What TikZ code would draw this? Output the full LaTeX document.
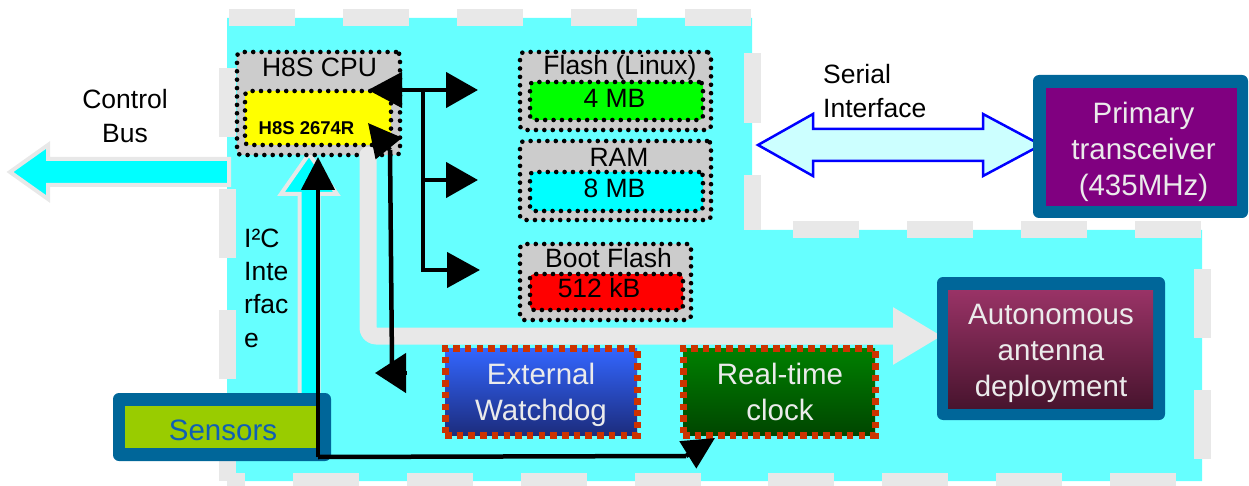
\documentclass[tikz,border=0pt]{standalone}
\usepackage{fontspec}
\setmainfont{Liberation Sans}
\usetikzlibrary{arrows.meta}
\definecolor{bgcyan}{RGB}{102,255,255}
\definecolor{lgray}{RGB}{232,232,232}
\definecolor{chipgray}{RGB}{204,204,204}
\definecolor{chipyellow}{RGB}{255,255,0}
\definecolor{flashgreen}{RGB}{0,255,0}
\definecolor{ramcyan}{RGB}{0,255,255}
\definecolor{bootred}{RGB}{255,0,0}
\definecolor{tealblue}{RGB}{0,102,153}
\definecolor{xcvrpurple}{RGB}{128,0,128}
\definecolor{anttop}{RGB}{153,51,102}
\definecolor{antbot}{RGB}{72,20,46}
\definecolor{wdtop}{RGB}{51,102,255}
\definecolor{wdbot}{RGB}{28,44,125}
\definecolor{rtctop}{RGB}{0,128,0}
\definecolor{rtcbot}{RGB}{0,70,0}
\definecolor{rusty}{RGB}{204,51,0}
\definecolor{sensgreen}{RGB}{153,204,0}
\definecolor{senstext}{RGB}{15,95,180}
\definecolor{lighttxt}{RGB}{235,235,235}
\definecolor{serialfill}{RGB}{204,255,255}
\definecolor{serialblue}{RGB}{0,0,255}
\newcommand{\myfs}[2]{\fontsize{#1}{#2}\selectfont}
\begin{document}
\begin{tikzpicture}[x=1pt,y=-1pt,
  frame/.style={draw=lgray, line width=17pt},
  box/.style={rectangle, inner sep=0pt, outer sep=0pt},
  dotted box/.style={box, draw=black, line width=4.6pt, dash pattern=on 0pt off 8.4pt, line cap=round, rounded corners=4pt},
  rusty box/.style={box, draw=rusty, line width=7pt, dash pattern=on 6.5pt off 5.2pt},
  teal box/.style={box, fill=tealblue, rounded corners=6pt},
  lbl/.style={inner sep=0pt, font=\myfs{26.5}{34}},
  wtxt/.style={inner sep=0pt, align=center, text=lighttxt, font=\myfs{29.5}{36}},
  blk/.style={draw=black, line width=4.5pt},
  bigarrow/.style={draw=lgray, line width=4pt, fill=ramcyan, line join=miter}
]
\useasboundingbox (0,0) rectangle (1249,486);
\clip (0,0) rectangle (1249,486);

% background region
\fill[bgcyan] (227,18) -- (752,18) -- (752,230) -- (1202,230) -- (1202,481) -- (227,481) -- cycle;
\draw[frame, dash pattern=on 66pt off 48pt, dash phase=112pt] (227,18) -- (752,18);
\draw[frame, dash pattern=on 69pt off 52pt, dash phase=71pt] (227,18) -- (227,481);
\draw[frame, dash pattern=on 70pt off 52pt, dash phase=87pt] (752,18) -- (752,230);
\draw[frame, dash pattern=on 66pt off 48pt, dash phase=73pt] (752,230) -- (1202,230);
\draw[frame, dash pattern=on 69pt off 52pt, dash phase=82pt] (1202,230) -- (1202,481);
\draw[frame, dash pattern=on 66pt off 48pt, dash phase=48pt] (227,481) -- (745,481);
\draw[frame, dash pattern=on 66pt off 48pt, dash phase=91pt] (745,481) -- (1202,481);

% Control bus arrow
\draw[bigarrow] (10,172) -- (48,145) -- (48,159) -- (229,159) -- (229,185) -- (48,185) -- (48,199) -- cycle;
\node[lbl, align=center] (ctrllbl) at (125,116.5) {Control\\Bus};

% Serial interface arrow
\draw[draw=serialblue, line width=2.5pt, fill=serialfill] (758,145) -- (813,114) -- (813,129) -- (983,129) -- (983,114) -- (1041,145) -- (983,176) -- (983,161) -- (813,161) -- (813,176) -- cycle;
\node[lbl, align=left, anchor=west] (serlbl) at (823,91) {Serial\\Interface};

% I2C arrow
\draw[bigarrow] (309,154) -- (337,194) -- (318.5,194) -- (318.5,405) -- (299.5,405) -- (299.5,194) -- (281,194) -- cycle;
\node[lbl, align=left, anchor=west, font=\myfs{26.5}{33.3}] (i2clbl) at (244,288) {I²C\\Inte\\rfac\\e};

% CPU
\node[dotted box, fill=chipgray, minimum width=163pt, minimum height=103pt] (cpu) at (318.5,103.5) {};
\node[dotted box, fill=chipyellow, minimum width=146pt, minimum height=54pt] (chip) at (318,118) {};
\node[lbl, anchor=base] (cpulbl) at (319.5,77) {H8S CPU};
\node[inner sep=0pt, anchor=base, font=\bfseries\myfs{18.5}{22}] (chiplbl) at (306.5,135) {H8S 2674R};

% Flash
\node[dotted box, fill=chipgray, minimum width=191pt, minimum height=78pt] (flash) at (615.5,91) {};
\node[dotted box, fill=flashgreen, minimum width=173pt, minimum height=38pt] (flashsz) at (616.5,101) {};
\node[lbl, anchor=base] (flashlbl) at (620,75) {Flash (Linux)};
\node[lbl, anchor=base] (flashszlbl) at (614.5,108) {4 MB};

% RAM
\node[dotted box, fill=chipgray, minimum width=191pt, minimum height=79pt] (ram) at (615.5,180.5) {};
\node[dotted box, fill=ramcyan, minimum width=173pt, minimum height=39pt] (ramsz) at (616.5,191.5) {};
\node[lbl, anchor=base] (ramlbl) at (619,167) {RAM};
\node[lbl, anchor=base] (ramszlbl) at (614.5,198) {8 MB};

% Boot flash
\node[dotted box, fill=chipgray, minimum width=171pt, minimum height=76pt] (boot) at (605.5,282) {};
\node[dotted box, fill=bootred, minimum width=153pt, minimum height=36pt] (bootsz) at (606.5,292) {};
\node[lbl, anchor=base] (bootlbl) at (608.5,267) {Boot Flash};
\node[lbl, anchor=base] (bootszlbl) at (599,297) {512 kB};

% Primary transceiver
\node[teal box, minimum width=215pt, minimum height=143pt] (xcvr) at (1140.5,146.5) {};
\node[box, fill=xcvrpurple, minimum width=191pt, minimum height=118pt] (xcvrin) at (1141.5,147) {};
\node[wtxt] (xcvrlbl) at (1143.5,151.5) {Primary\\transceiver\\(435MHz)};

% Gray arrow to antenna deployment
\draw[draw=lgray, line width=17pt, line cap=round, line join=round, rounded corners=8pt, -{Triangle[length=49pt,width=54pt]}] (368,155) -- (368,336) -- (942,336);

% Antenna deployment
\node[teal box, minimum width=228pt, minimum height=143pt] (ant) at (1051,348.5) {};
\node[box, top color=anttop, bottom color=antbot, minimum width=205pt, minimum height=118pt] (antin) at (1050.5,349) {};
\node[wtxt] (antlbl) at (1051,353.5) {Autonomous\\antenna\\deployment};

% Watchdog and RTC
\node[rusty box, top color=wdtop, bottom color=wdbot, minimum width=192pt, minimum height=87pt] (wd) at (541,391.5) {};
\node[wtxt] (wdlbl) at (541,395) {External\\Watchdog};
\node[rusty box, top color=rtctop, bottom color=rtcbot, minimum width=192pt, minimum height=87pt] (rtc) at (779,391.5) {};
\node[wtxt] (rtclbl) at (780,392) {Real-time\\clock};

% Sensors
\node[teal box, minimum width=218pt, minimum height=68pt] (sens) at (222,427) {};
\node[box, fill=sensgreen, minimum width=194pt, minimum height=42pt] (sensin) at (222,427) {};
\node[inner sep=0pt, anchor=base, text=senstext, font=\myfs{29.5}{36}] (senslbl) at (223,440) {Sensors};

% Memory bus arrows
\coordinate (busL) at (368,90);
\coordinate (busR) at (478,90);
\coordinate (busJ) at (423,90);
\coordinate (busM) at (423,180);
\coordinate (busMR) at (478,180);
\coordinate (busBR) at (480,270);
\draw[blk, {Triangle[length=34pt,width=35pt]}-{Triangle[length=32pt,width=35pt]}] (busL) -- (busR);
\draw[blk, -{Triangle[length=32pt,width=35pt]}] (busM) -- (busMR);
\draw[blk, -{Triangle[length=33pt,width=35pt]}] (busJ) |- (busBR);

% CPU <-> watchdog line
\coordinate (wdTopTip) at (368,123);
\coordinate (wdA) at (390,150);
\coordinate (wdB) at (392,364);
\coordinate (wdC) at (407,373);
\coordinate (wdTip) at (375,373);
\draw[blk] (wdA) -- (wdB);
\draw[blk, -{Triangle[length=33pt,width=33pt]}] (wdA) -- (wdTopTip);
\draw[blk, -{Triangle[length=31pt,width=39pt]}] (wdC) -- (wdTip);

% Sensors / I2C line to CPU and RTC
\coordinate (i2cTip) at (318,157);
\coordinate (i2cCorner) at (318,457);
\coordinate (rtcA) at (686,456);
\coordinate (rtcTip) at (715,438);
\draw[blk, -{Triangle[length=33pt,width=33pt]}] (i2cCorner) -- (i2cTip);
\draw[blk, line join=round] (i2cCorner) -- (rtcA);
\draw[blk, -{Triangle[length=32pt,width=31pt]}] (rtcA) -- (rtcTip);
\end{tikzpicture}
\end{document}
